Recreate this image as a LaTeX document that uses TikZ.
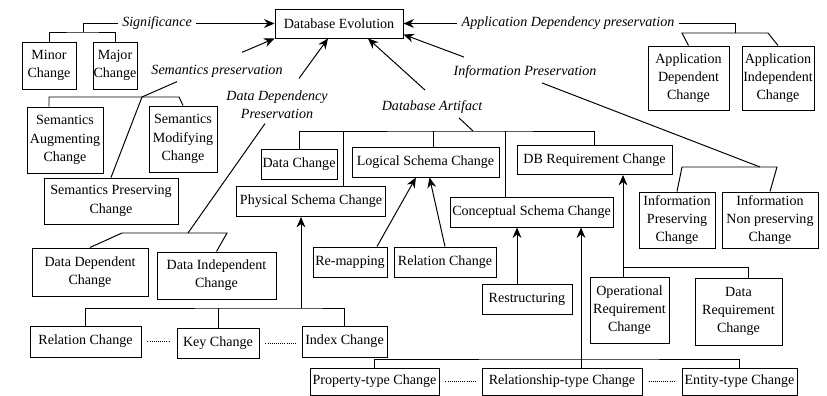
\documentclass[tikz,border=0pt]{standalone}
\usepackage{fontspec}
\setmainfont{Liberation Serif}
\usetikzlibrary{arrows.meta}

\tikzset{
  box/.style={draw, inner sep=0pt, align=center},
  wh/.style 2 args={minimum width=#1mm, minimum height=#2mm},
  lbl/.style={inner sep=1mm, align=center, font=\fontsize{10}{13}\selectfont\itshape},
  arr/.style={-{Stealth[length=2.6mm,width=2.2mm]}},
  dotline/.style={line width=0.5pt, dash pattern=on 0.5pt off 1pt, shorten <=1.5mm, shorten >=1.5mm}
}

\begin{document}
\begin{tikzpicture}[x=0.25mm, y=-0.25mm, line width=0.7pt, font=\fontsize{10}{13}\selectfont]
	\useasboundingbox (0,0) rectangle (827,396);

	% boxes
	\node[box, wh={32}{7.25}] (dbevo) at (339,23.5) {Database Evolution};
	\node[box, wh={13.5}{11.75}] (minor) at (49,65.5) {Minor\\Change};
	\node[box, wh={11}{11.75}] (major) at (115,65.5) {Major\\Change};
	\node[box, wh={19}{16.5}] (semaug) at (65,140) {Semantics\\Augmenting\\Change};
	\node[box, wh={17}{16.5}] (semmod) at (183,139) {Semantics\\Modifying\\Change};
	\node[box, wh={33.5}{11.5}] (sempres) at (111,201) {Semantics Preserving\\Change};
	\node[box, wh={29}{12}] (datadep) at (90,272) {Data Dependent\\Change};
	\node[box, wh={29.75}{11.75}] (dataind) at (216.5,275.5) {Data Independent\\Change};
	\node[box, wh={19}{7.5}] (datach) at (299,164) {Data Change};
	\node[box, wh={36.75}{7.5}] (logical) at (425.5,162) {Logical Schema Change};
	\node[box, wh={37.25}{7.5}] (physical) at (311,201.5) {Physical Schema Change};
	\node[box, wh={40.75}{7.5}] (concept) at (531.5,212) {Conceptual Schema Change};
	\node[box, wh={38.75}{7.25}] (dbreq) at (594.5,160) {DB Requirement Change};
	\node[box, wh={18.5}{7.5}] (remap) at (350,262) {Re-mapping};
	\node[box, wh={25.5}{7.5}] (relch) at (445,262) {Relation Change};
	\node[box, wh={22.5}{7.5}] (restr) at (527,299) {Restructuring};
	\node[box, wh={27.75}{7.75}] (relch2) at (85.5,341.5) {Relation Change};
	\node[box, wh={20.5}{7.5}] (keych) at (218,343) {Key Change};
	\node[box, wh={21.25}{7.75}] (idxch) at (344.5,341.5) {Index Change};
	\node[box, wh={19.75}{16.5}] (opreq) at (629.5,310) {Operational\\Requirement\\Change};
	\node[box, wh={21.75}{16.75}] (datareq) at (738.5,311.5) {Data\\Requirement\\Change};
	\node[box, wh={19}{14}] (infopres) at (677,220) {Information\\Preserving\\Change};
	\node[box, wh={24}{14}] (infonon) at (770,220) {Information\\Non preserving\\Change};
	\node[box, wh={20.25}{16}] (appdep) at (688.5,78) {Application\\Dependent\\Change};
	\node[box, wh={18}{16}] (appind) at (778,78) {Application\\Independent\\Change};
	\node[box, wh={32.25}{6.75}] (proptype) at (374.5,381.5) {Property-type Change};
	\node[box, wh={40}{6.75}] (reltype) at (562,381.5) {Relationship-type Change};
	\node[box, wh={28.75}{6.75}] (enttype) at (739.5,381.5) {Entity-type Change};

	% labels
	\node[lbl] (sig) at (157,23.5) {Significance};
	\node[lbl] (adp) at (568,23.5) {Application Dependency preservation};
	\node[lbl] (semp) at (217,71) {Semantics preservation};
	\node[lbl] (ddp) at (277,105) {Data Dependency\\Preservation};
	\node[lbl] (dba) at (432,107) {Database Artifact};
	\node[lbl] (infop) at (525,72) {Information Preservation};

	% junctions
	\coordinate (sigbar) at (83,32);
	\coordinate (sempj) at (142,97);
	\coordinate (sempl) at (49,97);
	\coordinate (sempr) at (179,97);
	\coordinate (ddpj) at (188,233);
	\coordinate (ddpl) at (122,233);
	\coordinate (ddpr) at (227,233);
	\coordinate (artj) at (473,131);
	\coordinate (physj) at (301,308);
	\coordinate (conbar) at (581,359);
	\coordinate (reqbar) at (623,267);
	\coordinate (infoj) at (760,167);
	\coordinate (infol) at (682,167);
	\coordinate (infor) at (777,167);
	\coordinate (adpb) at (735,33);
	\coordinate (adpl) at (682,33);
	\coordinate (adpr) at (768,33);
	\coordinate (physup) at ([xshift=8.1mm]physical.north);
	\coordinate (logup) at ([xshift=2.1mm]logical.north);
	\coordinate (conup) at ([xshift=-6.6mm]concept.north);
	\coordinate (restrup) at ([xshift=-2.5mm]restr.north);

	% arrows into Database Evolution
	\draw[arr] (sig.east) -- (dbevo.west);
	\draw[arr] (adp.west) -- (dbevo.east);
	\draw[arr] ([xshift=6.25mm,yshift=2mm]semp.north) -- (dbevo.south west);
	\draw[arr] ([xshift=5.5mm,yshift=2mm]ddp.north) -- ([xshift=-2.75mm]dbevo.south);
	\draw[arr] ([xshift=-1.75mm,yshift=1.5mm]dba.north) -- ([xshift=7.25mm]dbevo.south);
	\draw[arr] ([xshift=-15.25mm,yshift=1mm]infop.north) -- ([yshift=1mm]dbevo.south east);

	% significance
	\draw (sig.west) -| (sigbar);
	\draw (minor.north) |- (sigbar) -| (major.north);

	% semantics
	\draw ([xshift=-10mm]semp.south) -- (sempj) -- (sempres.north);
	\draw (sempl |- semaug.north) -- (sempl) -- (sempr) -- (semmod.north);

	% data dependency
	\draw ([xshift=-3mm]ddp.south) -- (ddpj);
	\draw (datadep.north) -- (ddpl) -- (ddpr) -- (dataind.north);

	% database artifact
	\draw ([xshift=6.75mm]dba.south) -- (artj);
	\draw (datach.north) |- (artj) -| (dbreq.north);
	\draw (physup) -- (physup |- artj);
	\draw (logup) -- (logup |- artj);
	\draw (conup) -- (conup |- artj);

	% physical schema
	\draw[arr] (physj) -- (physj |- physical.south);
	\draw (relch2.north) |- (physj) -| (idxch.north);
	\draw (keych.north) -- (keych.north |- physj);
	\draw[dotline] (relch2.east) -- (relch2.east -| keych.west);
	\draw[dotline] (keych.east) -- (keych.east -| idxch.west);

	% logical schema
	\draw[arr] ([xshift=6.75mm]remap.north) -- ([xshift=-2.4mm]logical.south);
	\draw[arr] (relch.north) -- ([xshift=1mm]logical.south);

	% conceptual schema
	\draw[arr] (restrup) -- (restrup |- concept.south);
	\draw[arr] (reltype.north -| conbar) -- (conbar |- concept.south);
	\draw (proptype.north) |- (conbar) -| (enttype.north);
	\draw[dotline] (proptype.east) -- (reltype.west);
	\draw[dotline] (reltype.east) -- (enttype.west);

	% requirement
	\draw[arr] (opreq.north -| reqbar) -- (reqbar |- dbreq.south);
	\draw (reqbar) -| ([xshift=2.4mm]datareq.north);

	% information
	\draw ([xshift=4.25mm]infop.south) -- (infoj);
	\draw (infopres.north) -- (infol) -- (infor) -- (infonon.north);

	% application dependency
	\draw (adp.east) -| (adpb);
	\draw (appdep.north) -- (adpl) -- (adpr) -- (appind.north);
\end{tikzpicture}
\end{document}
